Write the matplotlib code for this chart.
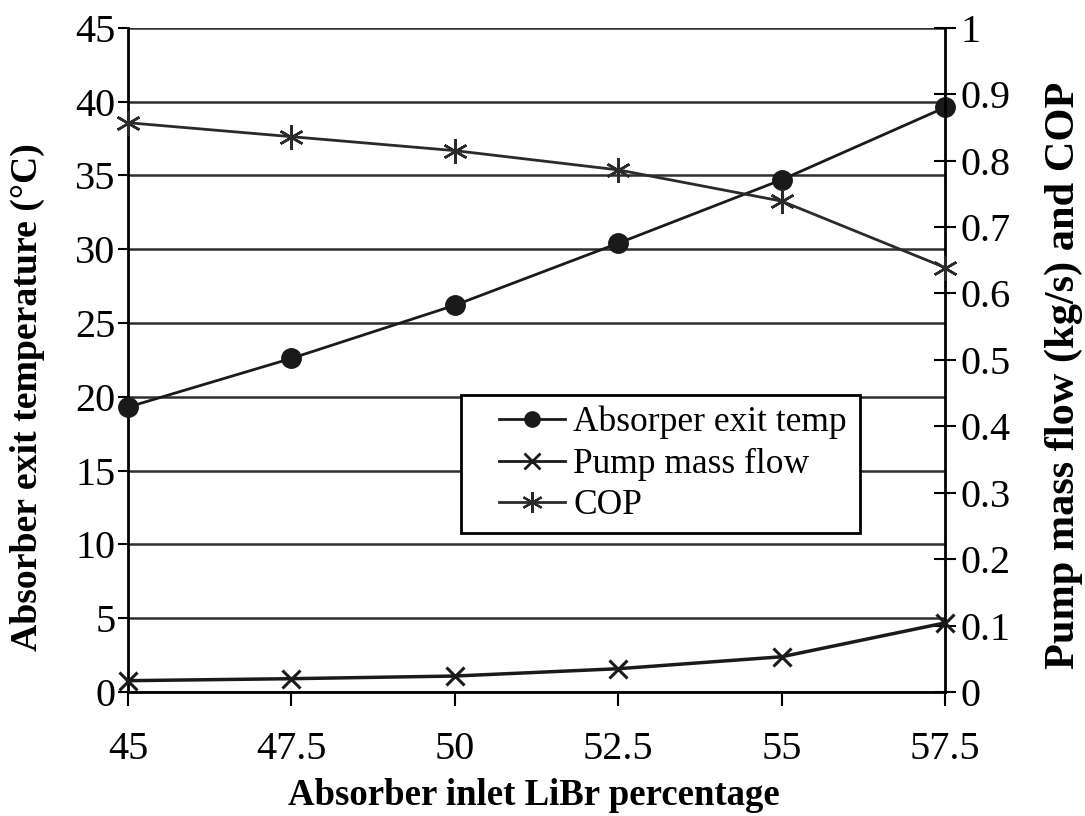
import matplotlib
matplotlib.use("Agg")
import matplotlib.pyplot as plt
from matplotlib.lines import Line2D
from matplotlib.patches import Rectangle

libr_pct = [45, 47.5, 50, 52.5, 55, 57.5]
absorber_exit_temp = [19.3, 22.6, 26.2, 30.4, 34.7, 39.6]
pump_mass_flow = [0.017, 0.020, 0.024, 0.035, 0.053, 0.104]
cop = [0.857, 0.836, 0.815, 0.786, 0.739, 0.639]

left_ticks = [0, 5, 10, 15, 20, 25, 30, 35, 40, 45]
right_ticks = [0, 0.1, 0.2, 0.3, 0.4, 0.5, 0.6, 0.7, 0.8, 0.9, 1]
right_labels = ["0", "0.1", "0.2", "0.3", "0.4", "0.5", "0.6", "0.7", "0.8", "0.9", "1"]
x_ticks = [45, 47.5, 50, 52.5, 55, 57.5]
x_labels = ["45", "47.5", "50", "52.5", "55", "57.5"]
legend_labels = ['Absorper exit temp', 'Pump mass flow', 'COP']

plt.rcParams['font.family'] = ['Liberation Serif', 'DejaVu Serif']

fig = plt.figure(figsize=(10.85, 8.16), dpi=100)
ax = fig.add_axes([0.118, 0.152, 0.753, 0.814])
ax2 = ax.twinx()

col = '#1a1a1a'
ax.plot(libr_pct, absorber_exit_temp, color=col, lw=2, marker='o', ms=14, zorder=3, clip_on=False)
ax2.plot(libr_pct, pump_mass_flow, color=col, lw=2.5, marker='x', ms=13, mew=2.2, zorder=3, clip_on=False)
ax2.plot(libr_pct, cop, color='#2a2a2a', lw=2, marker=(6, 2, 0), ms=18, mew=1.8, zorder=3, clip_on=False)

ax.set_xlim(45, 57.5)
ax.set_ylim(0, 45)
ax2.set_ylim(0, 1)
ax.set_xticks(x_ticks)
ax.set_xticklabels(x_labels)
ax.set_yticks(left_ticks)
ax2.set_yticks(right_ticks)
ax2.set_yticklabels(right_labels)

ax.grid(axis='y', color='#2e2e2e', lw=1.8)
ax.set_axisbelow(True)

for a in (ax, ax2):
    for s in a.spines.values():
        s.set_visible(False)
ax.spines['left'].set_visible(True)
ax.spines['left'].set_linewidth(2)
ax.spines['bottom'].set_visible(True)
ax.spines['bottom'].set_linewidth(2)
ax2.spines['right'].set_visible(True)
ax2.spines['right'].set_linewidth(2)

ax.tick_params(axis='y', labelsize=29, width=1.5, length=7, direction='out', pad=2)
ax.tick_params(axis='x', labelsize=29, width=1.5, length=10, direction='out', pad=18)
ax2.tick_params(axis='y', labelsize=29, width=1.5, length=16, direction='inout', pad=3)

ax.set_xlabel('Absorber inlet LiBr percentage', fontsize=26.5, fontweight='bold')
ax.set_ylabel('Absorber exit temperature (°C)', fontsize=27.2, fontweight='bold')
ax2.set_ylabel('Pump mass flow (kg/s) and COP', fontsize=30.5, fontweight='bold')
ax.xaxis.set_label_coords(0.497, -0.13)
ax.yaxis.set_label_coords(-0.102, 0.444)
ax2.yaxis.set_label_coords(1.122, 0.476)

# legend frame
ax.add_patch(Rectangle((0.408, 0.239), 0.488, 0.208, transform=ax.transAxes,
                       facecolor='white', edgecolor='black', lw=2, zorder=4))

handles = [
    Line2D([], [], color=col, lw=2, marker='o', ms=11),
    Line2D([], [], color=col, lw=2, marker='x', ms=11, mew=2),
    Line2D([], [], color='#2a2a2a', lw=2, marker=(6, 2, 0), ms=15, mew=1.6),
]
leg = ax.legend(handles, legend_labels,
                loc='center left', bbox_to_anchor=(0.454, 0.343), fontsize=25.5,
                frameon=False, handlelength=1.87, handletextpad=0.23,
                borderpad=0, labelspacing=0.24, borderaxespad=0)
leg.set_zorder(5)

fig.savefig('out.png', dpi=100)
